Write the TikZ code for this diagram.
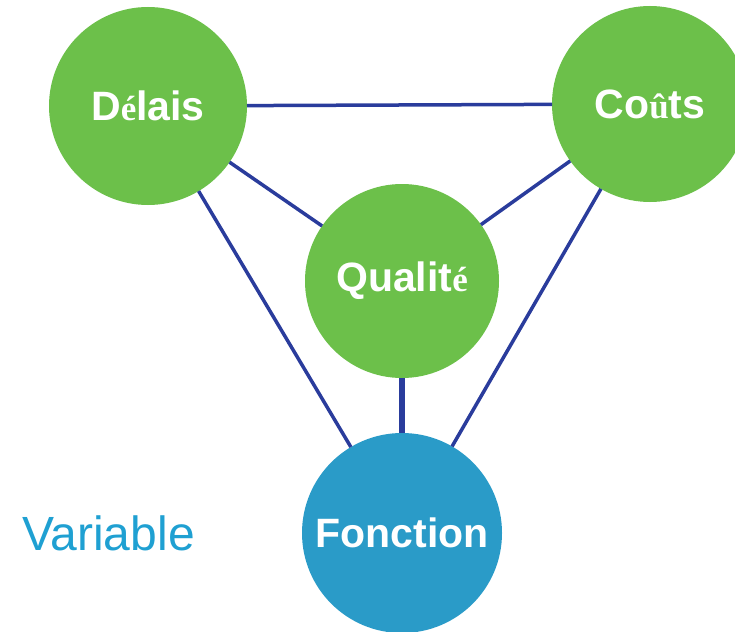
\documentclass[tikz,border=0pt]{standalone}
\usepackage{fontspec}
\setmainfont{Liberation Sans}
\newfontfamily\accfont{Liberation Serif}
\newcommand{\sacc}[1]{{\accfont\fontsize{35}{35}\selectfont\bfseries #1}}
\definecolor{leafgreen}{HTML}{6CC04A}
\definecolor{funcblue}{HTML}{2A9BC8}
\definecolor{varblue}{HTML}{1FA0D2}
\definecolor{linkblue}{HTML}{2A3C9C}
\begin{document}
\begin{tikzpicture}[x=1pt,y=-1pt,
  bubble/.style={circle,inner sep=0pt,outer sep=0pt,fill=leafgreen,text=white,
    font=\fontsize{41}{41}\selectfont\bfseries},
  link/.style={draw=linkblue,line width=3.5pt}]
\useasboundingbox (0,0) rectangle (735,631);
\fill[white] (0,0) rectangle (735,631);
\begin{scope}
\clip (0,0) rectangle (735,631);
\node[bubble,minimum size=198pt] (delais) at (148,106) {D\sacc{é}lais};
\node[bubble,minimum size=196pt] (couts) at (650,104) {Co\sacc{û}ts};
\node[bubble,minimum size=194pt] (qualite) at (402,281) {Qualit\sacc{é}};
\node[bubble,minimum size=200pt,fill=funcblue] (fonction) at (402,533) {Fonction};
\end{scope}
\node[anchor=base west,inner sep=0pt,text=varblue,font=\fontsize{48}{48}\selectfont] (variable) at (22,550) {Variable};
\draw[link] (delais) -- (couts);
\draw[link] (delais) -- (qualite);
\draw[link] (delais) -- (fonction);
\draw[link] (couts) -- (qualite);
\draw[link] (couts) -- (fonction);
\draw[link,line width=6.5pt] (qualite) -- (fonction);
\end{tikzpicture}
\end{document}
